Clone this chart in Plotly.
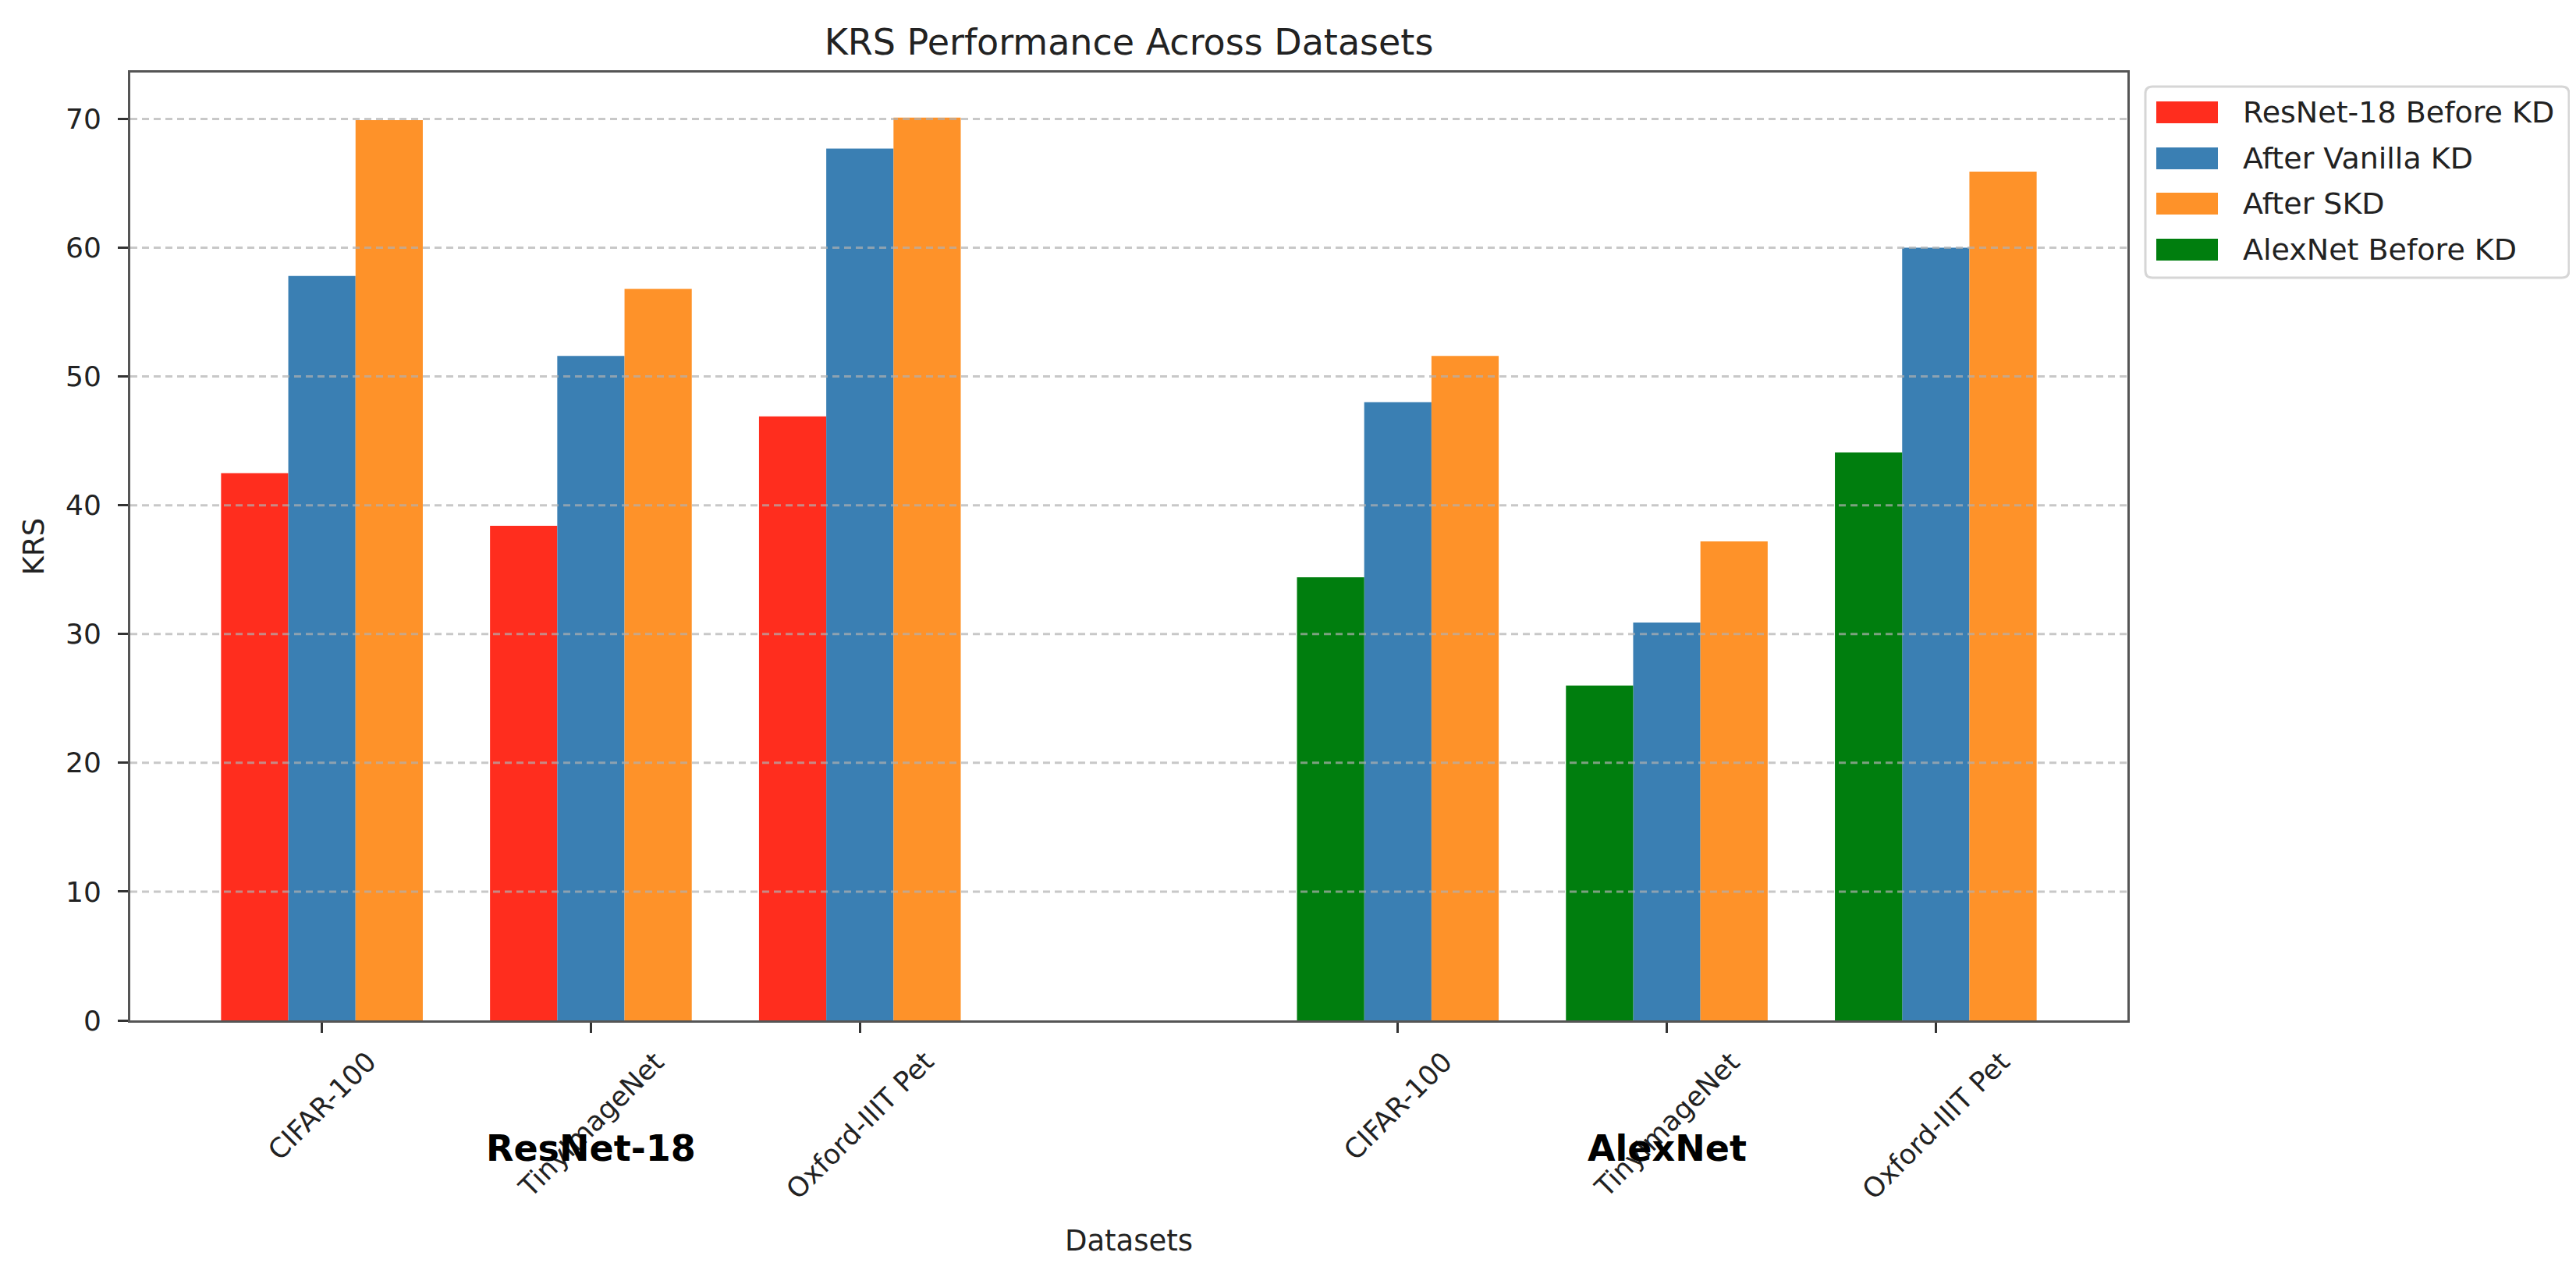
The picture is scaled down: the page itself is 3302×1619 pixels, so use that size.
import plotly.graph_objects as go

# ---------------- data ----------------
datasets = ["CIFAR-100", "TinyImageNet", "Oxford-IIIT Pet"]
models = ["ResNet-18", "AlexNet"]
resnet_pos = [0, 1, 2]
alexnet_pos = [4, 5, 6]

resnet_before = [42.5, 38.4, 46.9]
resnet_vanilla = [57.8, 51.6, 67.7]
resnet_skd = [69.9, 56.8, 70.1]

alexnet_before = [34.4, 26.0, 44.1]
alexnet_vanilla = [48.0, 30.9, 60.0]
alexnet_skd = [51.6, 37.2, 65.9]

series_names = ["ResNet-18 Before KD", "After Vanilla KD", "After SKD", "AlexNet Before KD"]
series_colors = ["#ff2d1e", "#3a7fb3", "#fe9229", "#007e0e"]

y_ticks = [0, 10, 20, 30, 40, 50, 60, 70]

# ---------------- layout geometry ----------------
W, H = 3302, 1619
L, R, T, B = 159, 2719, 85, 1300
FONT = "DejaVu Sans"
BAR_W = 0.25


def px_x(p):
    return (p - L) / (R - L)


def px_y(p):
    return (B - p) / (B - T)


fig = go.Figure()

all_pos = resnet_pos + alexnet_pos
fig.add_trace(go.Bar(x=resnet_pos, y=resnet_before, name=series_names[0],
                     marker=dict(color=series_colors[0], line=dict(width=0)),
                     width=BAR_W, offset=-1.5 * BAR_W))
fig.add_trace(go.Bar(x=all_pos, y=resnet_vanilla + alexnet_vanilla, name=series_names[1],
                     marker=dict(color=series_colors[1], line=dict(width=0)),
                     width=BAR_W, offset=-0.5 * BAR_W))
fig.add_trace(go.Bar(x=all_pos, y=resnet_skd + alexnet_skd, name=series_names[2],
                     marker=dict(color=series_colors[2], line=dict(width=0)),
                     width=BAR_W, offset=0.5 * BAR_W))
fig.add_trace(go.Bar(x=alexnet_pos, y=alexnet_before, name=series_names[3],
                     marker=dict(color=series_colors[3], line=dict(width=0)),
                     width=BAR_W, offset=-1.5 * BAR_W))

shapes = []
# dashed grid drawn above bars (matplotlib style)
for v in y_ticks[1:]:
    shapes.append(dict(type="line", xref="paper", x0=0, x1=1, yref="y", y0=v, y1=v,
                       line=dict(color="rgba(176,176,176,0.7)", width=3, dash="9px,6px"),
                       layer="above"))

annotations = []
# x tick labels (centered, rotated 45)
for pos, lab in zip(all_pos, datasets + datasets):
    annotations.append(dict(x=pos, xref="x", y=px_y(B + 30), yref="paper",
                            text=lab, textangle=-45, xanchor="center", yanchor="top",
                            showarrow=False, font=dict(family=FONT, size=35, color="#222")))
# model group labels
for pos_list, m in zip([resnet_pos, alexnet_pos], models):
    annotations.append(dict(x=sum(pos_list) / len(pos_list), xref="x", y=px_y(1464), yref="paper",
                            text="<b>" + m + "</b>", xanchor="center", yanchor="middle",
                            showarrow=False, font=dict(family=FONT, size=46, color="#000")))

# custom legend
lx0, lx1, ly0, ly1 = 2742, 3285, 103, 348
r = 9
x0p, x1p = px_x(lx0), px_x(lx1)
y0p, y1p = px_y(ly0), px_y(ly1)
rx, ry = r / (R - L), r / (B - T)
path = (f"M{x0p + rx},{y0p} L{x1p - rx},{y0p} Q{x1p},{y0p} {x1p},{y0p - ry} "
        f"L{x1p},{y1p + ry} Q{x1p},{y1p} {x1p - rx},{y1p} "
        f"L{x0p + rx},{y1p} Q{x0p},{y1p} {x0p},{y1p + ry} "
        f"L{x0p},{y0p - ry} Q{x0p},{y0p} {x0p + rx},{y0p} Z")
shapes.append(dict(type="path", xref="paper", yref="paper", path=path,
                   line=dict(color="#d6d6d6", width=3), fillcolor="rgba(255,255,255,0.8)",
                   layer="above"))
row_y = [136, 195, 253, 312]
for name, col, ry_px in zip(series_names, series_colors, row_y):
    shapes.append(dict(type="rect", xref="paper", yref="paper",
                       x0=px_x(2756), x1=px_x(2835), y0=px_y(ry_px - 14), y1=px_y(ry_px + 14),
                       line=dict(width=0), fillcolor=col, layer="above"))
    annotations.append(dict(x=px_x(2865), xref="paper", y=px_y(ry_px), yref="paper",
                            text=name, xanchor="left", yanchor="middle", showarrow=False,
                            font=dict(family=FONT, size=38, color="#222")))

fig.update_layout(
    width=W, height=H,
    margin=dict(l=L, r=W - R, t=T, b=H - B, autoexpand=False),
    paper_bgcolor="white", plot_bgcolor="white",
    barmode="overlay",
    showlegend=False,
    font=dict(family=FONT, size=37, color="#222"),
    title=dict(text="KRS Performance Across Datasets", x=0.5, xref="paper", xanchor="center",
               y=1 - 46 / H, yanchor="middle", font=dict(family=FONT, size=46, color="#222")),
    xaxis=dict(range=[-0.7125, 6.7125], tickmode="array", tickvals=all_pos,
               showticklabels=False, ticks="outside", ticklen=13, tickwidth=3, tickcolor="#333",
               showgrid=False, zeroline=False, showline=True, mirror=True,
               linecolor="#555", linewidth=3,
               title=dict(text="Datasets", standoff=255, font=dict(family=FONT, size=37, color="#222"))),
    yaxis=dict(range=[0, 73.6], tickmode="array", tickvals=y_ticks,
               ticks="outside", ticklen=13, tickwidth=3, tickcolor="#333",
               ticklabelstandoff=14,
               tickfont=dict(family=FONT, size=36, color="#222"),
               showgrid=False, zeroline=False, showline=True, mirror=True,
               linecolor="#555", linewidth=3,
               title=dict(text="KRS", standoff=17, font=dict(family=FONT, size=37, color="#222"))),
    shapes=shapes,
    annotations=annotations,
)

fig.write_html("out.html")
